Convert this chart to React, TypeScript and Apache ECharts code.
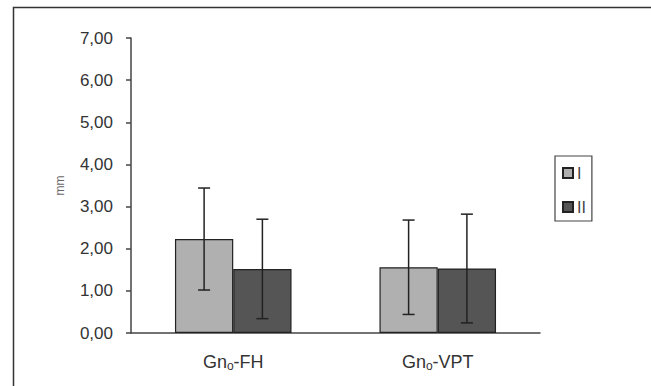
import React, { useEffect, useRef } from "react";
import * as echarts from "echarts";

const categories = ["FH", "VPT"];
const seriesNames = ["I", "II"];
const meansI = [2.23, 1.56];
const meansII = [1.52, 1.53];
const sdI = [1.21, 1.12];
const sdII = [1.18, 1.29];
const yTicks = [0, 1, 2, 3, 4, 5, 6, 7];

const colors = ["#b0b0b0", "#555555"];

export default function App() {
  const ref = useRef<HTMLDivElement>(null);
  useEffect(() => {
    if (!ref.current) return;
    const chart = echarts.init(ref.current, undefined, { renderer: "svg" });
    const means = [meansI, meansII];
    const sds = [sdI, sdII];
    const gapRatio = 0.43;
    const errSeries = seriesNames.map((name, s) => ({
      type: "custom",
      name: name + "_err",
      z: 5,
      silent: true,
      data: categories.map((_, i) => [i, means[s][i] - sds[s][i], means[s][i] + sds[s][i]]),
      renderItem: (params: any, api: any) => {
        const i = api.value(0);
        const band = api.size([1, 0])[0];
        const barW = (band * (1 - gapRatio)) / 2;
        const lo = api.coord([i, api.value(1)]);
        const hi = api.coord([i, api.value(2)]);
        const x = lo[0] + (s - 0.5) * barW;
        const cap = 6;
        const style = { stroke: "#222", lineWidth: 1.5 };
        return {
          type: "group",
          children: [
            { type: "line", shape: { x1: x, y1: lo[1], x2: x, y2: hi[1] }, style },
            { type: "line", shape: { x1: x - cap, y1: lo[1], x2: x + cap, y2: lo[1] }, style },
            { type: "line", shape: { x1: x - cap, y1: hi[1], x2: x + cap, y2: hi[1] }, style },
          ],
        };
      },
    }));
    chart.setOption({
      animation: false,
      backgroundColor: "#ffffff",
      textStyle: { fontFamily: "Liberation Sans, Arial, sans-serif" },
      grid: { left: 131, top: 38, right: 111, bottom: 53 },
      legend: {
        data: seriesNames.map((n) => ({ name: n, icon: "rect" })),
        orient: "vertical",
        left: 555,
        top: 156,
        padding: [9, 6, 6, 7],
        itemGap: 18,
        itemWidth: 10,
        itemHeight: 10,
        borderColor: "#444",
        borderWidth: 1.2,
        textStyle: { fontSize: 16, lineHeight: 12, color: "#444", padding: [0, 0, 0, -1] },
      },
      xAxis: {
        type: "category",
        data: categories,
        axisLine: { lineStyle: { color: "#444", width: 1.5 } },
        axisTick: { show: false },
        axisLabel: {
          margin: 18,
          formatter: (v: string) => "Gn{sub|o}-" + v,
          rich: {
            sub: { fontSize: 12, verticalAlign: "bottom", padding: [9, 0, 0, 0], color: "#333" },
          },
          fontSize: 18,
          color: "#333",
        },
      },
      yAxis: {
        type: "value",
        min: yTicks[0],
        max: yTicks[yTicks.length - 1],
        interval: 1,
        name: "mm",
        nameLocation: "middle",
        nameRotate: 90,
        nameGap: 65,
        nameTextStyle: { fontSize: 12, color: "#666" },
        splitLine: { show: false },
        axisLine: { show: true, lineStyle: { color: "#444", width: 1.5 } },
        axisTick: { show: true, length: 5, lineStyle: { color: "#444", width: 1.5 } },
        axisLabel: {
          margin: 18,
          fontSize: 17,
          color: "#333",
          formatter: (v: number) => v.toFixed(2).replace(".", ","),
        },
      },
      graphic: [
        {
          type: "polyline",
          shape: { points: [[13.5, 386], [13.5, 7.5], [651, 7.5]] },
          style: { stroke: "#333", lineWidth: 1.5, fill: "none" },
        },
      ],
      series: [
        ...seriesNames.map((name, s) => ({
          type: "bar",
          name,
          data: means[s],
          barGap: "0%",
          barCategoryGap: gapRatio * 100 + "%",
          itemStyle: { color: colors[s], borderColor: "#222", borderWidth: 1.2 },
        })),
        ...errSeries,
      ],
    });
    return () => chart.dispose();
  }, []);
  return <div ref={ref} style={{ width: 651, height: 386, position: "absolute", left: 0, top: 0 }} />;
}
